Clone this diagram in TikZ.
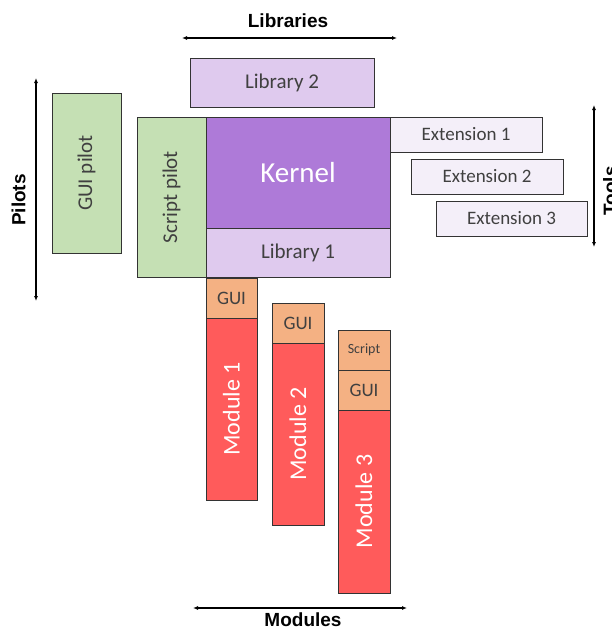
\documentclass[tikz,border=0pt]{standalone}
\usepackage{fontspec}
\setmainfont{Carlito}
\newfontfamily\arialb{Liberation Sans}
\usetikzlibrary{arrows.meta}
\definecolor{libc}{HTML}{DFCAEE}
\definecolor{kerc}{HTML}{AE7AD8}
\definecolor{extc}{HTML}{F4EFF9}
\definecolor{pilc}{HTML}{C5E0B4}
\definecolor{guic}{HTML}{F4B183}
\definecolor{modc}{HTML}{FF5B5B}
\definecolor{txtc}{HTML}{404040}
\tikzset{
  blk/.style={draw=black!80, line width=0.8pt, inner sep=0pt, text=txtc},
  lib/.style={blk, fill=libc, font=\fontsize{21}{24}\selectfont},
  ext/.style={blk, fill=extc, font=\fontsize{19}{22}\selectfont},
  pil/.style={blk, fill=pilc},
  piltext/.style={rotate=90, text=txtc, font=\fontsize{21}{24}\selectfont},
  gui/.style={blk, fill=guic, font=\fontsize{19}{22}\selectfont},
  mod/.style={blk, fill=modc, text=white},
  modtext/.style={rotate=90, text=white, font=\fontsize{24}{28}\selectfont},
  dim/.style={line width=1.2pt, {Latex[length=5pt,width=4pt]}-{Latex[length=5pt,width=4pt]}},
  lbl/.style={inner sep=0pt, font=\arialb\bfseries\fontsize{19}{22}\selectfont}
}
\begin{document}
\begin{tikzpicture}[x=1pt,y=-1pt]
\useasboundingbox (0,0) rectangle (612,629);
\node[lib, minimum width=184pt, minimum height=49pt] (lib2) at (282,82.5) {Library 2};
\node[pil, minimum width=69pt, minimum height=160pt] (guip) at (86.5,173) {};
\node[piltext] (guipt) at (guip.center) {GUI pilot};
\node[pil, minimum width=69pt, minimum height=160pt] (scrp) at (171.5,197) {};
\node[piltext] (scrpt) at (scrp.center) {Script pilot};
\node[blk, fill=kerc, text=white, minimum width=184pt, minimum height=111pt, font=\fontsize{29}{33}\selectfont] (ker) at (298,172.5) {Kernel};
\node[lib, minimum width=184pt, minimum height=49pt] (lib1) at (298,252.5) {Library 1};
\node[ext, minimum width=152pt, minimum height=35pt] (ext1) at (466,134.5) {Extension 1};
\node[ext, minimum width=152pt, minimum height=35pt] (ext2) at (487,176.5) {Extension 2};
\node[ext, minimum width=151pt, minimum height=35pt] (ext3) at (511.5,218.5) {Extension 3};
% modules
\node[gui, minimum width=51pt, minimum height=40pt] (gui1) at (231.5,298) {GUI};
\node[mod, minimum width=51pt, minimum height=182pt] (mod1) at (231.5,409) {};
\node[modtext] (mod1t) at (mod1.center) {Module 1};
\node[gui, minimum width=52pt, minimum height=40pt] (gui2) at (298,323) {GUI};
\node[mod, minimum width=52pt, minimum height=182pt] (mod2) at (298,434) {};
\node[modtext] (mod2t) at (mod2.center) {Module 2};
\node[gui, minimum width=52pt, minimum height=40pt, font=\fontsize{14}{16}\selectfont] (scr3) at (364,350) {Script};
\node[gui, minimum width=52pt, minimum height=40pt] (gui3) at (364,390) {GUI};
\node[mod, minimum width=52pt, minimum height=183pt] (mod3) at (364,501.5) {};
\node[modtext] (mod3t) at (mod3.center) {Module 3};
% dimension arrows
\coordinate (la) at (182,38); \coordinate (lb) at (397,38);
\draw[dim] (la) -- (lb);
\node[lbl] (libl) at (288,21) {Libraries};
\coordinate (ma) at (193,608); \coordinate (mb) at (407,608);
\draw[dim] (ma) -- (mb);
\node[lbl] (modl) at (303,620) {Modules};
\coordinate (pa) at (36,78); \coordinate (pb) at (36,301);
\draw[dim] (pa) -- (pb);
\node[lbl, rotate=90] (pill) at (18.5,200) {Pilots};
\coordinate (ta) at (594,105); \coordinate (tb) at (594,247);
\draw[dim] (ta) -- (tb);
\node[lbl, rotate=90, anchor=north] (tooll) at (603,191) {Tools};
\end{tikzpicture}
\end{document}
